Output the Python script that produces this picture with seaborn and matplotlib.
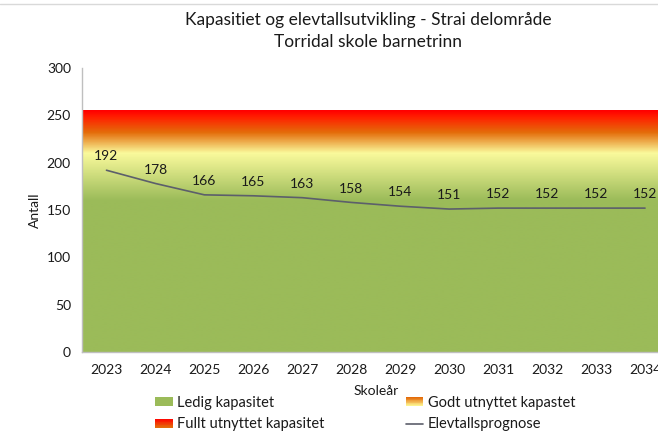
import numpy as np
import matplotlib
matplotlib.use("Agg")
import matplotlib.pyplot as plt
import seaborn as sns
import pandas as pd
from matplotlib.colors import LinearSegmentedColormap
from matplotlib.patches import Rectangle
from matplotlib.legend_handler import HandlerBase
from matplotlib.lines import Line2D

# data
years = ["2023", "2024", "2025", "2026", "2027", "2028", "2029", "2030", "2031", "2032", "2033", "2034"]
elevtall = [192, 178, 166, 165, 163, 158, 154, 151, 152, 152, 152, 152]
kapasitet = 255

# background gradient: level (antall) -> colour
grad_levels = [0, 160, 210, 232, 248, 255]
grad_colors = ["#9BBB59", "#9BBB59", "#FAFA9C", "#E46C0A", "#FF2000", "#FF0000"]

df = pd.DataFrame({"pos": np.arange(len(years)), "Skoleår": years, "Antall": elevtall})

sns.set_theme(style="white")
plt.rcParams["font.family"] = ["Lato", "DejaVu Sans"]

fig = plt.figure(figsize=(6.58, 4.38), dpi=100)
ax = fig.add_axes([82 / 658, 86 / 438, 587.5 / 658, 284 / 438])

# gradient capacity area
stops = [(lv / kapasitet, c) for lv, c in zip(grad_levels, grad_colors)]
cmap = LinearSegmentedColormap.from_list("kap", stops)
grad = np.linspace(0, kapasitet, 600).reshape(-1, 1)
ax.imshow(grad, origin="lower", aspect="auto", cmap=cmap, vmin=0, vmax=kapasitet,
          extent=[-0.5, len(years) - 0.5, 0, kapasitet], zorder=0, interpolation="bilinear")

sns.lineplot(data=df, x="pos", y="Antall", color="#5C5F6B", linewidth=1.2, ax=ax, zorder=3)

for i, v in enumerate(elevtall):
    ax.annotate(str(v), (i, v), xytext=(0, 10), textcoords="offset points",
                ha="center", va="center", fontsize=10, color="#1a1a1a")

ax.set_xlim(-0.5, len(years) - 0.5)
ax.set_ylim(0, 300)
ax.set_yticks(range(0, 301, 50))
ax.set_xticks(df["pos"])
ax.set_xticklabels(years)
ax.set_xticks(np.arange(-0.5, len(years), 1), minor=True)
ax.tick_params(axis="x", which="major", length=0, pad=9, labelsize=10, labelcolor="#1a1a1a")
ax.tick_params(axis="x", which="minor", length=5, color="#BFBFBF", direction="out", width=1)
ax.tick_params(axis="y", length=4, color="#BFBFBF", direction="out", labelsize=10, labelcolor="#1a1a1a", pad=4)
for s in ["top", "right"]:
    ax.spines[s].set_visible(False)
for s in ["left", "bottom"]:
    ax.spines[s].set_color("#BFBFBF")
    ax.spines[s].set_linewidth(1)
ax.set_xlabel("Skoleår", fontsize=10, labelpad=6, color="#1a1a1a")
ax.set_ylabel("Antall", fontsize=10, labelpad=4, color="#1a1a1a")
ax.grid(False)

fig.text(368 / 658, 1 - 20 / 438, "Kapasitiet og elevtallsutvikling - Strai delområde",
         ha="center", va="center", fontsize=12.5, color="#1a1a1a")
fig.text(368 / 658, 1 - 42 / 438, "Torridal skole barnetrinn",
         ha="center", va="center", fontsize=12.5, color="#1a1a1a")

fig.add_artist(Line2D([0, 1], [1 - 3.5 / 438, 1 - 3.5 / 438], color="#D9D9D9", lw=1,
                      transform=fig.transFigure))


class GradientHandler(HandlerBase):
    def __init__(self, colors):
        super().__init__()
        self.cm = LinearSegmentedColormap.from_list("leg", colors)

    def create_artists(self, legend, orig_handle, xdescent, ydescent, width, height, fontsize, trans):
        n = 12
        arts = []
        for k in range(n):
            arts.append(Rectangle((-xdescent, -ydescent + height * k / n), width, height / n * 1.05,
                                  facecolor=self.cm(k / (n - 1)), edgecolor="none", transform=trans))
        return arts


h_ledig = Rectangle((0, 0), 1, 1, facecolor="#9BBB59", edgecolor="none")
h_fullt = Rectangle((0, 0), 1, 1, facecolor="#FF0000", edgecolor="none")
h_godt = Rectangle((0, 0), 1, 1, facecolor="#E46C0A", edgecolor="none")
h_elev = Line2D([], [], color="#5C5F6B", lw=1.2)

fig.legend([h_ledig, h_fullt, h_godt, h_elev],
           ["Ledig kapasitet", "Fullt utnyttet kapasitet", "Godt utnyttet kapastet", "Elevtallsprognose"],
           handler_map={h_fullt: GradientHandler(["#E46C0A", "#FF0000"]),
                        h_godt: GradientHandler(["#FFFF99", "#E46C0A"])},
           ncol=2, loc="upper left", bbox_to_anchor=(155 / 658, 1 - 396 / 438),
           frameon=False, fontsize=10.5, handlelength=1.2, handleheight=0.55,
           handletextpad=0.3, columnspacing=5.6, borderpad=0, borderaxespad=0,
           labelspacing=0.5, labelcolor="#1a1a1a")

fig.savefig("out.png", dpi=100)
